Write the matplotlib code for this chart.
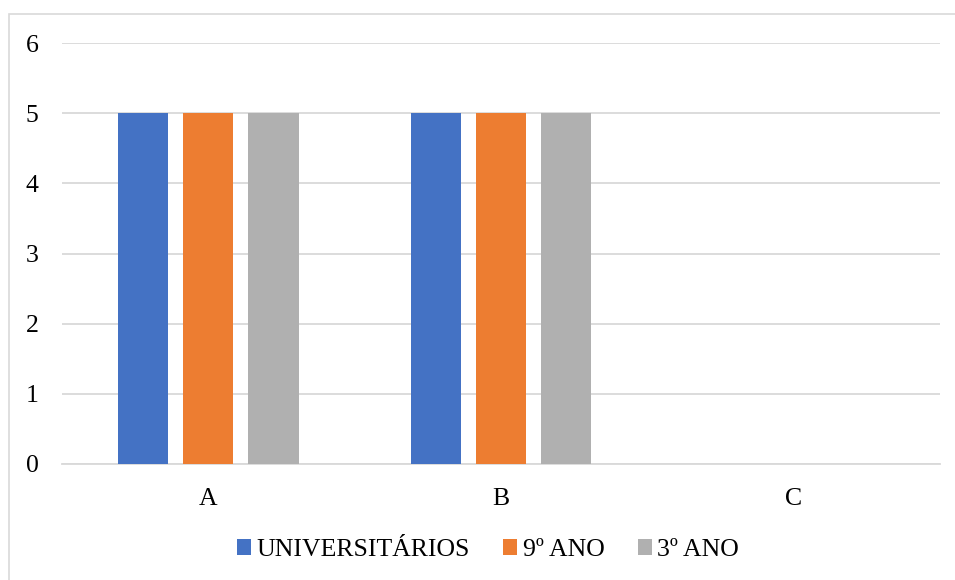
import matplotlib
matplotlib.use("Agg")
import matplotlib.pyplot as plt
from matplotlib.patches import Rectangle
import numpy as np

categories = ["A", "B", "C"]
series_names = ["UNIVERSITÁRIOS", "9º ANO", "3º ANO"]
universitarios = [5, 5, 0]
nono_ano = [5, 5, 0]
terceiro_ano = [5, 5, 0]
y_ticks = [0, 1, 2, 3, 4, 5, 6]

colors = ["#4472C4", "#ED7D31", "#B0B0B0"]
grid_color = "#D9D9D9"

plt.rcParams["font.family"] = ["Liberation Serif", "DejaVu Serif"]

fig = plt.figure(figsize=(9.55, 5.8), dpi=100)
fig.patch.set_facecolor("white")

# chart-area frame
fig.patches.append(Rectangle((9 / 955, -0.1), 1.2, (580 - 14) / 580 + 0.1,
                             transform=fig.transFigure, fill=False,
                             edgecolor="#D9D9D9", linewidth=1.2))

ax = fig.add_axes([62 / 955, 116 / 580, 878 / 955, 421 / 580])

x = np.arange(len(categories))
width = 0.171
offset = 0.2226
for i, (vals, name) in enumerate(zip([universitarios, nono_ano, terceiro_ano], series_names)):
    ax.bar(x + (i - 1) * offset, vals, width, color=colors[i], label=name, zorder=3)

ax.set_xlim(-0.5, 2.5)
ax.set_ylim(0, 6)
ax.set_yticks(y_ticks)
ax.set_xticks(x)
ax.set_xticklabels(categories)
ax.yaxis.grid(True, color=grid_color, linewidth=1.3, zorder=0)
ax.set_axisbelow(True)
for s in ["top", "right", "left"]:
    ax.spines[s].set_visible(False)
ax.spines["bottom"].set_color(grid_color)
ax.spines["bottom"].set_linewidth(1.3)
ax.tick_params(axis="both", length=0, labelsize=18.5, colors="black")
ax.tick_params(axis="x", pad=17)
ax.tick_params(axis="y", pad=17)

leg = fig.legend(loc="center", bbox_to_anchor=(488 / 955, 1 - 550 / 580), ncol=3,
                 frameon=False, fontsize=18.5, handlelength=0.55, handleheight=0.55,
                 handletextpad=0.2, columnspacing=1.3)

fig.savefig("out.png", dpi=100, facecolor="white")
